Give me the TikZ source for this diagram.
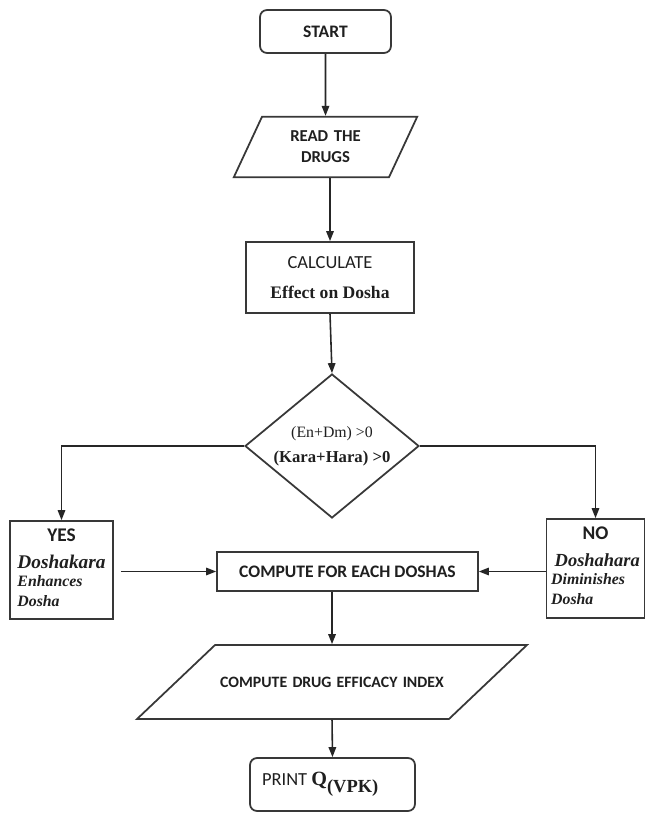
\documentclass[tikz,border=0pt]{standalone}
\usepackage{fontspec}
\setmainfont{Liberation Serif}
\newfontfamily\calibri{Carlito}
\usetikzlibrary{shapes.geometric, arrows.meta}

\begin{document}
\begin{tikzpicture}[x=0.02cm, y=-0.02cm,
        box/.style={
            % The shape:
            rectangle,
            % The border
            line width=1pt,
            draw=black!78,
            % The filling
            fill=white,
            % Font
            text=black!88,
            font=\calibri\bfseries,
            inner sep=0pt
        },
        term/.style={box, rounded corners=4pt},
        io/.style={box, trapezium, align=center, inner xsep=0pt},
        decision/.style={box, diamond, aspect=1.2},
        arr/.style={line width=0.9pt, draw=black!85, -{Triangle[length=2mm,width=1.5mm]}}
        ]

        \useasboundingbox (0,0) rectangle (646,814);

        % top of the chart
        \node [term, minimum width=2.62cm, minimum height=0.86cm] (start) at (325.5,31.5) {START};
        \node [io, trapezium left angle=65, trapezium right angle=115, text width=2.54cm, inner ysep=0.285cm,
               font=\calibri\bfseries\fontsize{9.5}{12}\selectfont] (read) at (325.5,147) {READ THE\\DRUGS};
        \node [box, minimum width=3.36cm, minimum height=1.42cm, align=center,
               font=\calibri\fontsize{10.5}{13}\selectfont] (calc) at (330,277.5)
              {CALCULATE\\[4pt]{\rmfamily\bfseries\fontsize{10}{12}\selectfont Effect on Dosha}};
        \node [decision, minimum width=3.48cm, minimum height=2.88cm, align=center,
               font=\rmfamily] (test) at (332,446)
              {{\fontsize{9}{11}\selectfont (En+Dm) >0}\\[2pt]{\bfseries\fontsize{9.5}{11}\selectfont (Kara+Hara) >0}};

        % the two branches
        \node [box, minimum width=2.06cm, minimum height=1.96cm, font=\rmfamily] (yes) at (61.5,570)
              {\def\arraystretch{0.85}\begin{tabular}{@{}l@{}}
                \multicolumn{1}{@{}c@{}}{\calibri\bfseries\fontsize{11}{13}\selectfont YES}\\[5pt]
                {\bfseries\itshape\fontsize{11}{13}\selectfont Doshakara}\\
                {\bfseries\itshape\fontsize{9}{11}\selectfont Enhances}\\[1pt]
                {\bfseries\itshape\fontsize{9}{11}\selectfont Dosha}
               \end{tabular}};
        \node [box, minimum width=1.96cm, minimum height=1.98cm, font=\rmfamily] (no) at (595.5,568.5)
              {\def\arraystretch{0.85}\begin{tabular}{@{}l@{}}
                \multicolumn{1}{@{}c@{}}{\calibri\bfseries\fontsize{11}{13}\selectfont NO}\\[5pt]
                \hspace*{2pt}{\bfseries\itshape\fontsize{10.5}{13}\selectfont Doshahara}\\
                {\bfseries\itshape\fontsize{9}{11}\selectfont Diminishes}\\[1pt]
                {\bfseries\itshape\fontsize{9}{11}\selectfont Dosha}
               \end{tabular}};
        \node [box, minimum width=5.22cm, minimum height=0.78cm] (each) at (347.5,571.5) {COMPUTE FOR EACH DOSHAS};

        % bottom of the chart
        \node [io, trapezium left angle=43.5, trapezium right angle=136.5, text width=4.68cm,
               text height=0.21cm, text depth=0cm, inner ysep=0.635cm,
               font=\calibri\bfseries\fontsize{9}{11}\selectfont] (index) at (332,682) {COMPUTE DRUG EFFICACY INDEX};
        \node [term, minimum width=3.3cm, minimum height=1.06cm,
               font=\calibri\fontsize{10.5}{12}\selectfont] (print) at (332.5,784.5)
              {PRINT {\rmfamily\bfseries\fontsize{11.5}{12}\selectfont Q\raisebox{-4pt}{\fontsize{10.5}{12}\selectfont(VPK)}}\hspace*{14pt}};

        \draw [arr] (start.south) -- (read.north);
        \draw [arr] (read.south -| calc.north) -- (calc.north);
        \draw [arr] (calc.south) -- (test.north);
        \draw [arr] (test.west) -| (yes.north);
        \draw [arr] (test.east) -| (no.north);
        \draw [arr, shorten <=4pt] (yes.east |- each.west) -- (each.west);
        \draw [arr] (no.west |- each.east) -- (each.east);
        \draw [arr] (each.south -| index.north) -- (index.north);
        \draw [arr] (index.south) -- (print.north);

    \end{tikzpicture}
\end{document}
